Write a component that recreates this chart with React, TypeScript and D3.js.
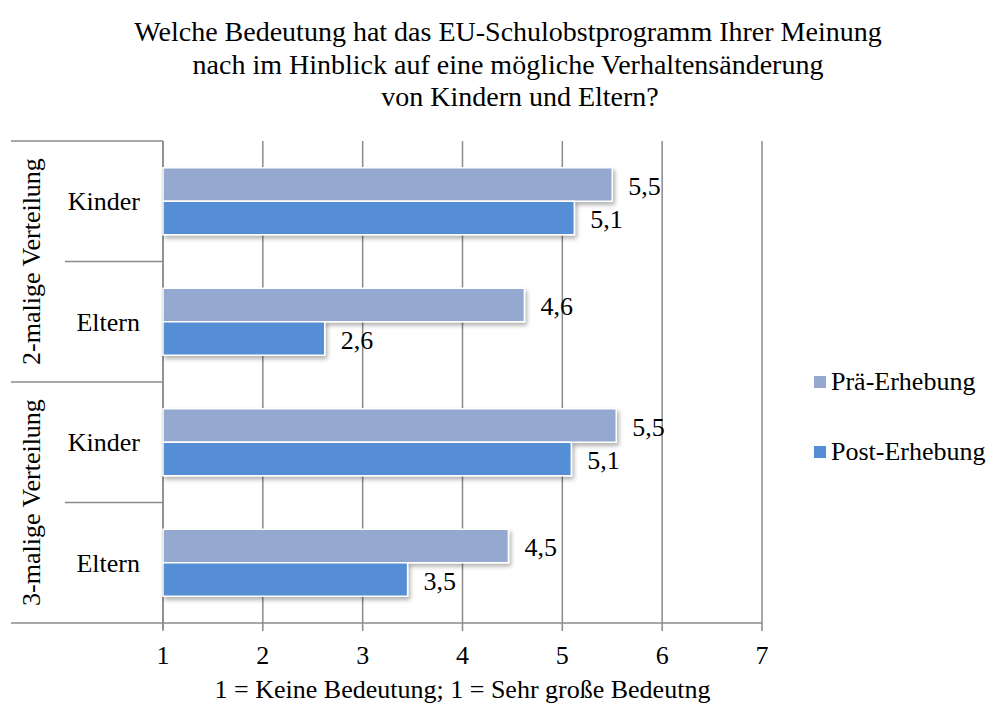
import React from "react";
import * as d3 from "d3";

const groups = ["2-malige Verteilung", "3-malige Verteilung"];
const categories = ["Kinder", "Eltern", "Kinder", "Eltern"];
const seriesNames = ["Prä-Erhebung", "Post-Erhebung"];
const preValues = [5.5, 4.62, 5.54, 4.46];
const postValues = [5.12, 2.62, 5.09, 3.45];
const preLabels = ["5,5", "4,6", "5,5", "4,5"];
const postLabels = ["5,1", "2,6", "5,1", "3,5"];
const xTicks = [1, 2, 3, 4, 5, 6, 7];
const titleLines = [
  "Welche Bedeutung hat das EU-Schulobstprogramm Ihrer Meinung",
  "nach im Hinblick auf eine mögliche Verhaltensänderung",
  "von Kindern und Eltern?",
];
const xTitle = "1 = Keine Bedeutung; 1 = Sehr große Bedeutng";

const colors = ["#95a9d0", "#558ed5"];
const font = "Times New Roman, serif";

const W = 993;
const H = 705;
const left = 163;
const right = 762;
const top = 141;
const bottom = 623;
const grid = "#8a8a8a";
const fs = 26;

export default function App() {
  const x = d3.scaleLinear().domain([1, 7]).range([left, right]);
  const y = d3
    .scaleBand<number>()
    .domain(d3.range(categories.length))
    .range([top, bottom]);
  // two bars per category, 67px together, centred in the band
  const inner = d3.scaleBand<number>().domain([0, 1]).range([0, 67]);
  const bandPad = (y.bandwidth() - 67) / 2;
  const groupY = d3
    .scaleBand<number>()
    .domain(d3.range(groups.length))
    .range([top, bottom]);

  const series = [preValues, postValues];
  const labels = [preLabels, postLabels];

  return (
    <svg
      width={W}
      height={H}
      style={{ position: "absolute", left: 0, top: 0, background: "#fff", fontFamily: font }}
    >
      <defs>
        <filter id="sh" x="-5%" y="-30%" width="115%" height="180%">
          <feDropShadow dx="2" dy="3" stdDeviation="2" floodColor="#000" floodOpacity="0.3" />
        </filter>
      </defs>

      {titleLines.map((t, i) => (
        <text key={i} x={i === 2 ? 520 : 508} y={41 + i * 32.5} textAnchor="middle" fontSize={28}>
          {t}
        </text>
      ))}

      {/* grid */}
      {xTicks.map((t) => (
        <line key={t} x1={x(t)} x2={x(t)} y1={top} y2={bottom + 8} stroke={grid} strokeWidth={1.5} />
      ))}
      <line x1={left} x2={right} y1={bottom} y2={bottom} stroke={grid} strokeWidth={1.5} />

      {/* category boundaries */}
      {d3.range(categories.length + 1).map((i) => {
        const yy = i === categories.length ? bottom : (y(i) as number);
        const x0 = i % 2 === 0 ? 11 : 65;
        return <line key={i} x1={x0} x2={left} y1={yy} y2={yy} stroke={grid} strokeWidth={1.5} />;
      })}
      <line x1={left} x2={left} y1={top} y2={bottom + 6} stroke={grid} strokeWidth={1.5} />

      {/* bars */}
      {series.map((vals, s) =>
        vals.map((v, i) => {
          const by = (y(i) as number) + bandPad + (inner(s) as number);
          return (
            <g key={`${s}-${i}`}>
              <rect
                x={x(1)}
                y={by}
                width={x(v) - x(1)}
                height={inner.bandwidth()}
                fill={colors[s]}
                stroke="#fff"
                strokeWidth={1.5}
                filter="url(#sh)"
              />
              <text x={x(v) + 16} y={by + inner.bandwidth() / 2 + 1} dy="0.35em" fontSize={fs}>
                {labels[s][i]}
              </text>
            </g>
          );
        })
      )}

      {/* category labels */}
      {categories.map((c, i) => (
        <text
          key={i}
          x={140}
          y={(y(i) as number) + y.bandwidth() / 2}
          dy="0.35em"
          textAnchor="end"
          fontSize={fs}
        >
          {c}
        </text>
      ))}
      {groups.map((g, i) => {
        const cy = (groupY(i) as number) + groupY.bandwidth() / 2;
        return (
          <text key={g} transform={`translate(40,${cy}) rotate(-90)`} textAnchor="middle" fontSize={fs}>
            {g}
          </text>
        );
      })}

      {/* x ticks */}
      {xTicks.map((t) => (
        <text key={t} x={x(t)} y={664} textAnchor="middle" fontSize={fs}>
          {t}
        </text>
      ))}
      <text x={(left + right) / 2} y={698} textAnchor="middle" fontSize={fs}>
        {xTitle}
      </text>

      {/* legend */}
      {seriesNames.map((n, i) => (
        <g key={n} transform={`translate(814,${382 + i * 70})`}>
          <rect x={0} y={-6} width={12} height={12} fill={colors[i]} />
          <text x={17} y={-1} dy="0.35em" fontSize={fs}>
            {n}
          </text>
        </g>
      ))}
    </svg>
  );
}
